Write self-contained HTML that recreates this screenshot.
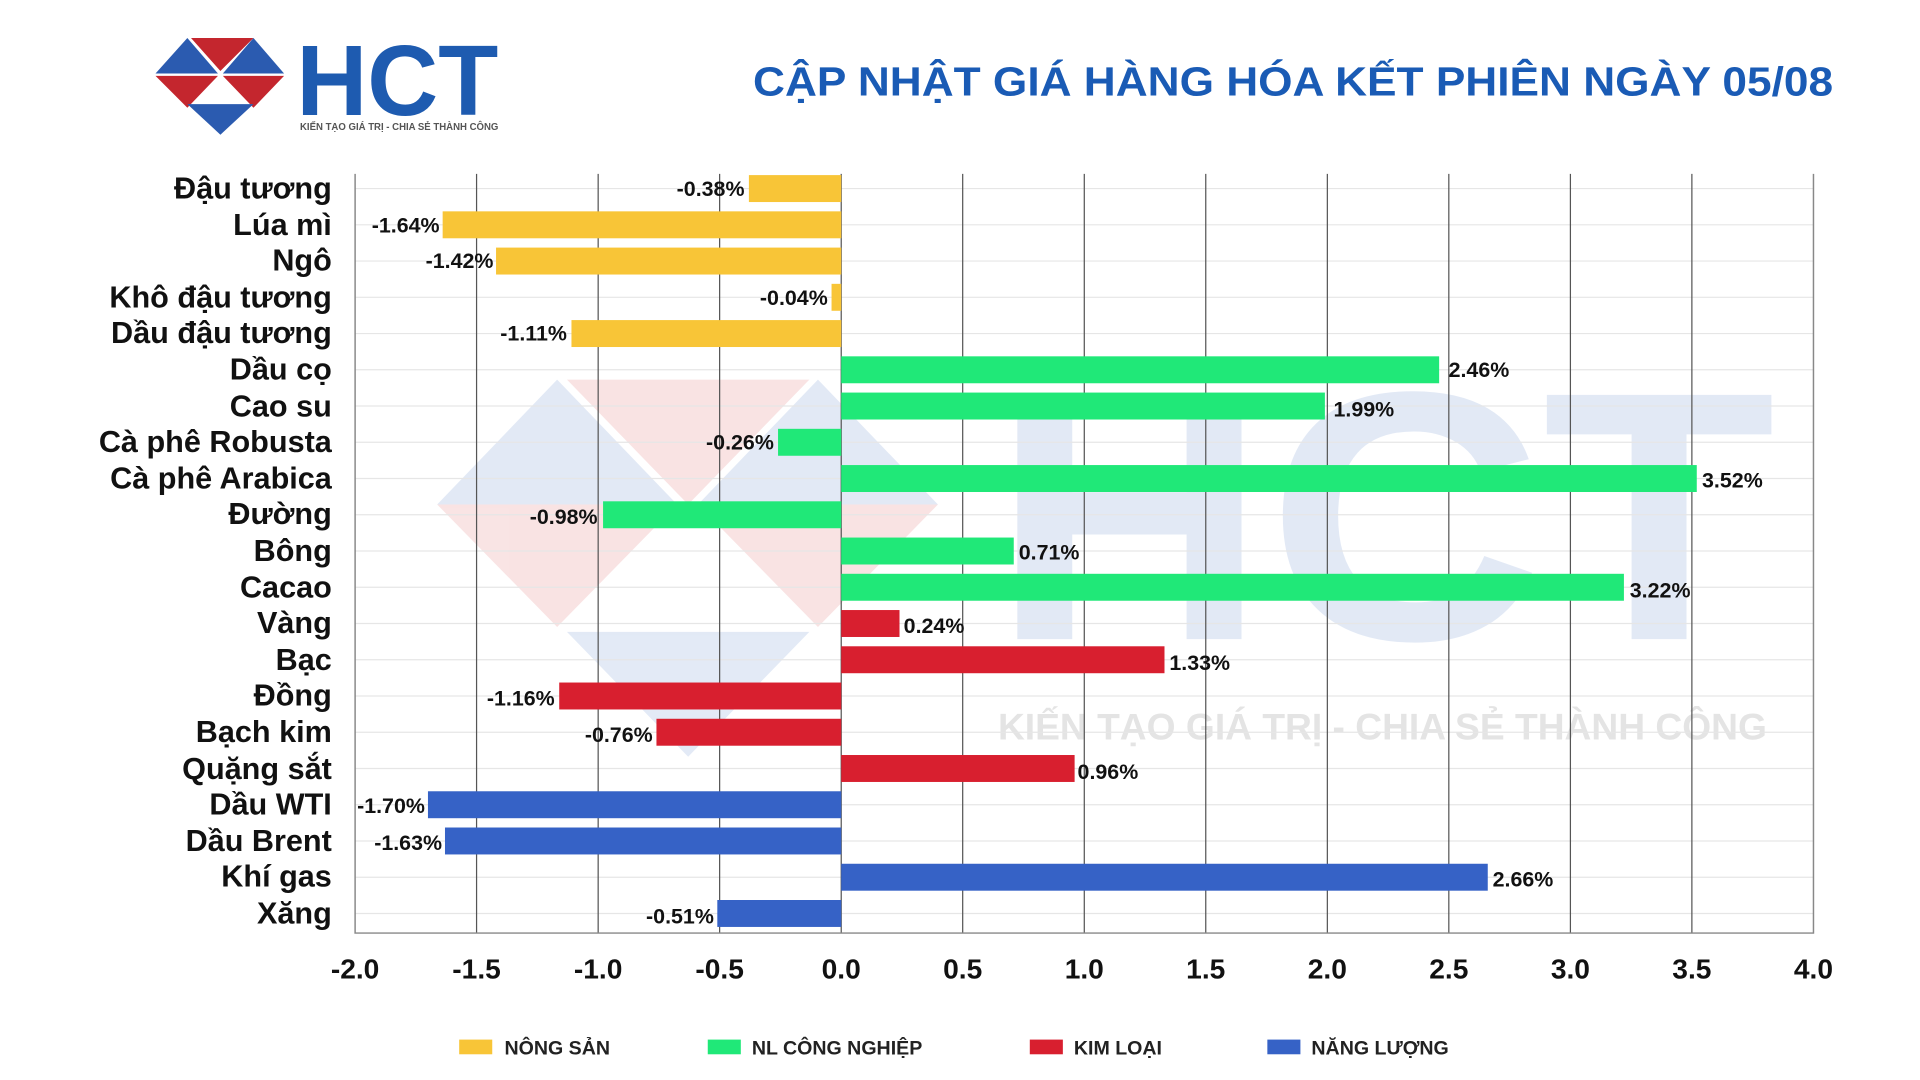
<!DOCTYPE html>
<html><head><meta charset="utf-8"><style>
html,body{margin:0;padding:0;background:#fff;width:1920px;height:1080px;overflow:hidden}
svg{display:block}
text{font-family:"Liberation Sans",sans-serif;font-weight:bold}
</style></head><body>
<svg width="1920" height="1080" viewBox="0 0 1568 882" preserveAspectRatio="none">
<!-- watermark -->
<g opacity="0.14">
<polygon points="357,412 455,310 553,412" fill="#3a6bc0"/>
<polygon points="463,310 661,310 562,412" fill="#d64040"/>
<polygon points="570,412 668,310 766,412" fill="#3a6bc0"/>
<polygon points="357,412 553,412 455,512" fill="#d64040"/>
<polygon points="570,412 766,412 668,512" fill="#d64040"/>
<polygon points="463,516 661,516 562,618" fill="#3a6bc0"/>
<text x="810" y="522" font-size="290" fill="#3a6bc0" textLength="640" lengthAdjust="spacingAndGlyphs">HCT</text>
</g>
<text x="815" y="604" font-size="30" fill="#e4e4e4" font-weight="normal" textLength="628" lengthAdjust="spacingAndGlyphs">KIẾN TẠO GIÁ TRỊ - CHIA SẺ THÀNH CÔNG</text>
<!-- logo -->
<polygon points="127,60 153,31 178,60" fill="#2b5bb0"/>
<polygon points="156,31 207,31 180,58" fill="#c4262e"/>
<polygon points="182,60 207,31 232,60" fill="#2b5bb0"/>
<polygon points="127,62 178,62 153,88" fill="#c4262e"/>
<polygon points="182,62 232,62 207,88" fill="#c4262e"/>
<polygon points="153,85 207,85 180,110" fill="#2b5bb0"/>
<text x="242" y="94" font-size="82" fill="#1e5bb0" textLength="165" lengthAdjust="spacingAndGlyphs">HCT</text>
<text x="245" y="106" font-size="8" fill="#555" textLength="162" lengthAdjust="spacingAndGlyphs">KIẾN TẠO GIÁ TRỊ - CHIA SẺ THÀNH CÔNG</text>
<!-- title -->
<text x="615" y="78" font-size="33" fill="#1a5bb5" textLength="882" lengthAdjust="spacingAndGlyphs">CẬP NHẬT GIÁ HÀNG HÓA KẾT PHIÊN NGÀY 05/08</text>
<!-- horizontal grid -->
<g stroke="#e6e6e6" stroke-width="1">
<line x1="290" x2="1481" y1="154" y2="154"/><line x1="290" x2="1481" y1="183.6" y2="183.6"/><line x1="290" x2="1481" y1="213.2" y2="213.2"/><line x1="290" x2="1481" y1="242.8" y2="242.8"/><line x1="290" x2="1481" y1="272.4" y2="272.4"/><line x1="290" x2="1481" y1="302" y2="302"/><line x1="290" x2="1481" y1="331.6" y2="331.6"/><line x1="290" x2="1481" y1="361.2" y2="361.2"/><line x1="290" x2="1481" y1="390.8" y2="390.8"/><line x1="290" x2="1481" y1="420.4" y2="420.4"/><line x1="290" x2="1481" y1="450" y2="450"/><line x1="290" x2="1481" y1="479.6" y2="479.6"/><line x1="290" x2="1481" y1="509.2" y2="509.2"/><line x1="290" x2="1481" y1="538.8" y2="538.8"/><line x1="290" x2="1481" y1="568.4" y2="568.4"/><line x1="290" x2="1481" y1="598" y2="598"/><line x1="290" x2="1481" y1="627.6" y2="627.6"/><line x1="290" x2="1481" y1="657.2" y2="657.2"/><line x1="290" x2="1481" y1="686.8" y2="686.8"/><line x1="290" x2="1481" y1="716.4" y2="716.4"/><line x1="290" x2="1481" y1="746" y2="746"/>
</g>
<!-- vertical grid -->
<g stroke="#555" stroke-width="1">
<line x1="389.2" x2="389.2" y1="142" y2="762"/><line x1="488.5" x2="488.5" y1="142" y2="762"/><line x1="587.7" x2="587.7" y1="142" y2="762"/><line x1="687" x2="687" y1="142" y2="762"/><line x1="786.2" x2="786.2" y1="142" y2="762"/><line x1="885.5" x2="885.5" y1="142" y2="762"/><line x1="984.7" x2="984.7" y1="142" y2="762"/><line x1="1084" x2="1084" y1="142" y2="762"/><line x1="1183.2" x2="1183.2" y1="142" y2="762"/><line x1="1282.5" x2="1282.5" y1="142" y2="762"/><line x1="1381.7" x2="1381.7" y1="142" y2="762"/>
</g>
<g stroke="#888" stroke-width="1.2" fill="none"><polyline points="290,142 290,762 1481,762 1481,142"/></g>
<!-- bars -->
<g fill="#f8c537">
<rect x="611.6" y="143" width="75.4" height="22"/><rect x="361.5" y="172.6" width="325.5" height="22"/><rect x="405.1" y="202.2" width="281.9" height="22"/><rect x="679.1" y="231.8" width="7.9" height="22"/><rect x="466.7" y="261.4" width="220.3" height="22"/>
</g>
<g fill="#20e878">
<rect x="687" y="291" width="488.3" height="22"/><rect x="687" y="320.6" width="395" height="22"/><rect x="635.4" y="350.2" width="51.6" height="22"/><rect x="687" y="379.8" width="698.7" height="22"/><rect x="492.5" y="409.4" width="194.5" height="22"/><rect x="687" y="439" width="140.9" height="22"/><rect x="687" y="468.6" width="639.2" height="22"/>
</g>
<g fill="#d81f2f">
<rect x="687" y="498.2" width="47.6" height="22"/><rect x="687" y="527.8" width="264" height="22"/><rect x="456.7" y="557.4" width="230.3" height="22"/><rect x="536.1" y="587" width="150.9" height="22"/><rect x="687" y="616.6" width="190.6" height="22"/>
</g>
<g fill="#3662c6">
<rect x="349.5" y="646.2" width="337.5" height="22"/><rect x="363.4" y="675.8" width="323.6" height="22"/><rect x="687" y="705.4" width="528" height="22"/><rect x="585.8" y="735" width="101.2" height="22"/>
</g>
<!-- value labels -->
<g font-size="17.5" fill="#111">
<text x="608" y="160" text-anchor="end">-0.38%</text>
<text x="359" y="190" text-anchor="end">-1.64%</text>
<text x="403" y="219" text-anchor="end">-1.42%</text>
<text x="676" y="249" text-anchor="end">-0.04%</text>
<text x="463" y="278" text-anchor="end">-1.11%</text>
<text x="1183" y="308">2.46%</text>
<text x="1089" y="340">1.99%</text>
<text x="632" y="367" text-anchor="end">-0.26%</text>
<text x="1390" y="398">3.52%</text>
<text x="488" y="428" text-anchor="end">-0.98%</text>
<text x="832" y="457">0.71%</text>
<text x="1331" y="488">3.22%</text>
<text x="738" y="517">0.24%</text>
<text x="955" y="547">1.33%</text>
<text x="453" y="576" text-anchor="end">-1.16%</text>
<text x="533" y="606" text-anchor="end">-0.76%</text>
<text x="880" y="636">0.96%</text>
<text x="347" y="664" text-anchor="end">-1.70%</text>
<text x="361" y="694" text-anchor="end">-1.63%</text>
<text x="1219" y="724">2.66%</text>
<text x="583" y="754" text-anchor="end">-0.51%</text>
</g>
<!-- category labels -->
<g font-size="25" fill="#111" text-anchor="end">
<text x="271" y="162">Đậu tương</text><text x="271" y="192">Lúa mì</text><text x="271" y="221">Ngô</text><text x="271" y="251">Khô đậu tương</text><text x="271" y="280">Dầu đậu tương</text><text x="271" y="310">Dầu cọ</text><text x="271" y="340">Cao su</text><text x="271" y="369">Cà phê Robusta</text><text x="271" y="399">Cà phê Arabica</text><text x="271" y="428">Đường</text><text x="271" y="458">Bông</text><text x="271" y="488">Cacao</text><text x="271" y="517">Vàng</text><text x="271" y="547">Bạc</text><text x="271" y="576">Đồng</text><text x="271" y="606">Bạch kim</text><text x="271" y="636">Quặng sắt</text><text x="271" y="665">Dầu WTI</text><text x="271" y="695">Dầu Brent</text><text x="271" y="724">Khí gas</text><text x="271" y="754">Xăng</text>
</g>
<!-- ticks -->
<g font-size="23" fill="#111" text-anchor="middle">
<text x="290" y="799">-2.0</text><text x="389.2" y="799">-1.5</text><text x="488.5" y="799">-1.0</text><text x="587.7" y="799">-0.5</text><text x="687" y="799">0.0</text><text x="786.2" y="799">0.5</text><text x="885.5" y="799">1.0</text><text x="984.7" y="799">1.5</text><text x="1084" y="799">2.0</text><text x="1183.2" y="799">2.5</text><text x="1282.5" y="799">3.0</text><text x="1381.7" y="799">3.5</text><text x="1481" y="799">4.0</text>
</g>
<!-- legend -->
<g font-size="16" fill="#222">
<rect x="375" y="849" width="27" height="12" fill="#f8c537"/><text x="412" y="861">NÔNG SẢN</text>
<rect x="578" y="849" width="27" height="12" fill="#20e878"/><text x="614" y="861">NL CÔNG NGHIỆP</text>
<rect x="841" y="849" width="27" height="12" fill="#d81f2f"/><text x="877" y="861">KIM LOẠI</text>
<rect x="1035" y="849" width="27" height="12" fill="#3662c6"/><text x="1071" y="861">NĂNG LƯỢNG</text>
</g>
</svg>
</body></html>
